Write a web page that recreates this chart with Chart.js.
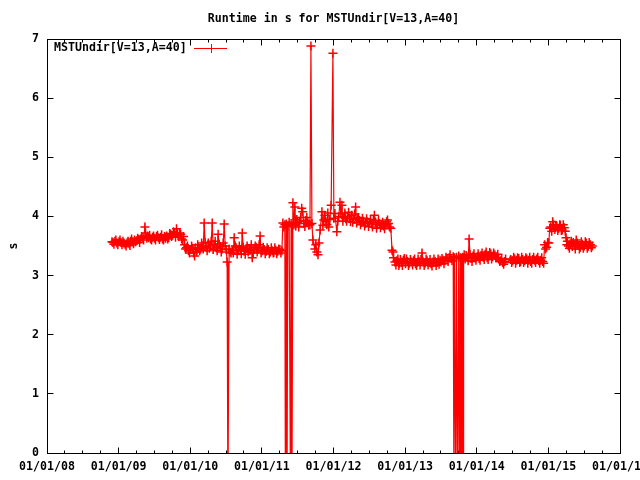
<!DOCTYPE html>
<html>
<head>
<meta charset="utf-8">
<script src="https://cdn.jsdelivr.net/npm/chart.js@4.4.0/dist/chart.umd.min.js"></script>
<style>
  html, body { margin: 0; padding: 0; background: #fff; }
</style>
</head>
<body>
<canvas id="runtimeChart" width="640" height="480"></canvas>
<script>
const chartTitle = 'Runtime in s for MSTUndir[V=13,A=40]';
const seriesName = 'MSTUndir[V=13,A=40]';
const yAxisLabel = 's';
const yearTicks = [2008, 2009, 2010, 2011, 2012, 2013, 2014, 2015, 2016];
const xTickLabels = ['01/01/08', '01/01/09', '01/01/10', '01/01/11', '01/01/12', '01/01/13', '01/01/14', '01/01/15', '01/01/16'];
const yTicks = [0, 1, 2, 3, 4, 5, 6, 7];

// one run per date; failed runs are below the axis (-1)
const runDates = [
  '2008-11-28','2008-12-03','2008-12-13','2008-12-23',
  '2009-01-03','2009-01-13','2009-01-23','2009-02-03','2009-02-13','2009-02-23',
  '2009-03-03','2009-03-13','2009-03-23','2009-04-03','2009-04-13','2009-04-23',
  '2009-05-05','2009-05-15','2009-05-18','2009-05-25','2009-06-03','2009-06-13','2009-06-23',
  '2009-07-03','2009-07-13','2009-07-23','2009-08-03','2009-08-13','2009-08-23',
  '2009-09-03','2009-09-13','2009-09-23','2009-10-03','2009-10-13','2009-10-23',
  '2009-11-03','2009-11-13','2009-11-23','2009-12-03','2009-12-13','2009-12-23',
  '2010-01-03','2010-01-13','2010-01-23','2010-02-03','2010-02-13','2010-02-23',
  '2010-03-03','2010-03-13','2010-03-23','2010-04-03','2010-04-13','2010-04-23',
  '2010-05-03','2010-05-13','2010-05-23','2010-06-03','2010-06-13','2010-06-23',
  '2010-07-03','2010-07-08','2010-07-12','2010-07-18','2010-07-23',
  '2010-08-03','2010-08-13','2010-08-23','2010-09-03','2010-09-13','2010-09-23',
  '2010-10-03','2010-10-13','2010-10-23','2010-11-03','2010-11-13','2010-11-23',
  '2010-12-03','2010-12-13','2010-12-23',
  '2011-01-03','2011-01-13','2011-01-23','2011-02-03','2011-02-13','2011-02-23',
  '2011-03-03','2011-03-13','2011-03-23',
  '2011-04-03','2011-04-13','2011-04-18','2011-04-23','2011-04-28',
  '2011-05-01','2011-05-05','2011-05-09','2011-05-13','2011-05-20','2011-05-27','2011-05-30',
  '2011-06-03','2011-06-08','2011-06-13','2011-06-18','2011-06-23',
  '2011-07-03','2011-07-13','2011-07-23','2011-07-28',
  '2011-08-03','2011-08-13','2011-08-23',
  '2011-09-03','2011-09-08','2011-09-13','2011-09-18',
  '2011-10-03','2011-10-08','2011-10-14','2011-10-19','2011-10-25',
  '2011-11-03','2011-11-13','2011-11-23',
  '2011-12-03','2011-12-08','2011-12-13','2011-12-20','2011-12-29',
  '2012-01-03','2012-01-18','2012-01-28','2012-02-03','2012-02-13','2012-02-23',
  '2012-03-03','2012-03-13','2012-03-23','2012-04-03','2012-04-13','2012-04-23',
  '2012-05-03','2012-05-13','2012-05-23','2012-06-03','2012-06-13','2012-06-23',
  '2012-07-03','2012-07-13','2012-07-28','2012-08-03','2012-08-13','2012-08-23',
  '2012-09-03','2012-09-13','2012-09-23',
  '2012-10-03','2012-10-13','2012-10-20','2012-10-26','2012-10-31',
  '2012-11-10','2012-11-20','2012-12-03','2012-12-13','2012-12-23',
  '2013-01-03','2013-01-13','2013-01-23','2013-02-03','2013-02-13','2013-02-23',
  '2013-03-03','2013-03-13','2013-03-28','2013-04-03','2013-04-13','2013-04-23',
  '2013-05-03','2013-05-13','2013-05-23','2013-06-03','2013-06-13','2013-06-23',
  '2013-07-03','2013-07-13','2013-07-23','2013-08-03','2013-08-13','2013-08-23',
  '2013-09-03','2013-09-07','2013-09-10','2013-09-17','2013-09-20','2013-09-27',
  '2013-10-01','2013-10-07','2013-10-09','2013-10-12','2013-10-14','2013-10-17','2013-10-20','2013-10-23','2013-10-26',
  '2013-11-03','2013-11-13','2013-11-23','2013-12-03','2013-12-13','2013-12-23',
  '2014-01-03','2014-01-13','2014-01-23','2014-02-03','2014-02-13','2014-02-23',
  '2014-03-03','2014-03-13','2014-03-23','2014-04-03','2014-04-13','2014-04-23',
  '2014-05-03','2014-05-13','2014-05-23','2014-06-23',
  '2014-07-03','2014-07-13','2014-07-23','2014-08-03','2014-08-13','2014-08-23',
  '2014-09-03','2014-09-13','2014-09-23','2014-10-03','2014-10-13','2014-10-23',
  '2014-11-03','2014-11-13','2014-11-23','2014-12-03','2014-12-13','2014-12-23',
  '2015-01-03','2015-01-08','2015-01-13','2015-01-23','2015-02-03','2015-02-13','2015-02-23',
  '2015-03-03','2015-03-13','2015-03-23','2015-04-01','2015-04-05','2015-04-13','2015-04-23',
  '2015-05-03','2015-05-13','2015-05-23','2015-06-03','2015-06-13','2015-06-23',
  '2015-07-03','2015-07-13','2015-07-23','2015-08-03','2015-08-13'
];

const runtimes = [
  3.57, 3.56, 3.58, 3.55,
  3.57, 3.56, 3.58, 3.53, 3.55, 3.54,
  3.58, 3.57, 3.60, 3.59, 3.61, 3.62,
  3.64, 3.82, 3.72, 3.63, 3.64, 3.62, 3.65,
  3.63, 3.66, 3.64, 3.65, 3.62, 3.66,
  3.67, 3.64, 3.70, 3.68, 3.72, 3.79,
  3.66, 3.70, 3.60, 3.52, 3.47, 3.42,
  3.44, 3.46, 3.33, 3.40, 3.46, 3.45,
  3.50, 3.89, 3.48, 3.55, 3.50, 3.89,
  3.52, 3.47, 3.70, 3.49, 3.45, 3.87,
  3.44, 3.23, -1, 3.45, 3.40,
  3.43, 3.64, 3.47, 3.42, 3.44, 3.72,
  3.41, 3.46, 3.40, 3.43, 3.30, 3.44,
  3.48, 3.45, 3.67,
  3.42, 3.44, 3.41, 3.44, 3.40, 3.42,
  3.39, 3.43, 3.41,
  3.44, 3.42, 3.89, 3.82, 3.86,
  -1, 3.87, -1, 3.84, 3.90, -1, 3.88,
  -1, 4.23, 3.86, 4.16, 3.84,
  3.90, 3.92, 4.14, 4.08,
  3.88, 3.93, 3.90,
  3.86, 6.88, 3.88, 3.60,
  3.52, 3.40, 3.35, 3.55, 3.77,
  4.08, 3.94, 3.92,
  4.06, 3.82, 3.95, 4.19, 6.76,
  3.97, 3.74, 4.00, 4.24, 4.19, 3.98,
  3.96, 4.00, 3.97, 4.02, 3.95, 4.16,
  3.96, 3.93, 3.90, 3.92, 3.88, 3.91,
  3.89, 3.87, 4.02, 3.90, 3.86, 3.88,
  3.85, 3.84, 3.86,
  3.94, 3.82, 3.80, 3.43, 3.40,
  3.23, 3.25, 3.21, 3.22, 3.26,
  3.20, 3.24, 3.21, 3.23, 3.25, 3.20,
  3.22, 3.24, 3.38, 3.23, 3.21, 3.25,
  3.22, 3.20, 3.23, 3.24, 3.22, 3.19,
  3.23, 3.26, 3.25, 3.28, 3.30, 3.29,
  3.32, -1, 3.30, -1, 3.31, -1,
  3.33, -1, 3.30, -1, 3.29, -1, 3.31, -1, 3.30,
  3.28, 3.31, 3.62, 3.29, 3.33, 3.30,
  3.32, 3.29, 3.34, 3.31, 3.36, 3.30,
  3.33, 3.37, 3.32, 3.35, 3.30, 3.28,
  3.25, 3.22, 3.24, 3.27,
  3.25, 3.28, 3.26, 3.29, 3.24, 3.27,
  3.25, 3.28, 3.26, 3.24, 3.27, 3.26,
  3.28, 3.25, 3.26, 3.24, 3.52, 3.48,
  3.55, 3.80, 3.82, 3.91, 3.78, 3.83, 3.80,
  3.85, 3.77, 3.81, 3.64, 3.52, 3.50, 3.54,
  3.49, 3.52, 3.60, 3.51, 3.48, 3.53,
  3.50, 3.55, 3.49, 3.52, 3.50
];

// further runs in between, which make the band as thick as in the plot
const extraDates = [
  '2008-12-08','2008-12-18','2008-12-28',
  '2009-01-08','2009-01-18','2009-01-28','2009-02-08','2009-02-18','2009-02-28',
  '2009-03-08','2009-03-18','2009-03-28','2009-04-08','2009-04-18','2009-04-28',
  '2009-05-08','2009-05-28','2009-06-08','2009-06-18','2009-06-28',
  '2009-07-08','2009-07-18','2009-07-28','2009-08-08','2009-08-18','2009-08-28',
  '2009-09-08','2009-09-18','2009-09-28','2009-10-08','2009-10-18','2009-10-28',
  '2009-11-08','2009-11-18','2009-11-28','2009-12-08','2009-12-18','2009-12-28',
  '2010-01-08','2010-01-18','2010-01-28','2010-02-08','2010-02-18','2010-02-28',
  '2010-03-08','2010-03-18','2010-03-28','2010-04-08','2010-04-18','2010-04-28',
  '2010-05-08','2010-05-18','2010-05-28','2010-06-08','2010-06-18','2010-06-28',
  '2010-07-28','2010-08-08','2010-08-18','2010-08-28',
  '2010-09-08','2010-09-18','2010-09-28','2010-10-08','2010-10-18','2010-10-28',
  '2010-11-08','2010-11-18','2010-11-28','2010-12-08','2010-12-18','2010-12-28',
  '2011-01-08','2011-01-18','2011-01-28','2011-02-08','2011-02-18','2011-02-28',
  '2011-03-08','2011-03-18','2011-03-28','2011-04-08',
  '2011-06-28','2011-07-08','2011-07-18','2011-08-08','2011-08-18','2011-08-28',
  '2011-09-28','2011-11-08','2011-11-18','2011-11-28',
  '2012-01-08','2012-01-23','2012-02-08','2012-02-18','2012-02-28',
  '2012-03-08','2012-03-18','2012-03-28','2012-04-08','2012-04-18','2012-04-28',
  '2012-05-08','2012-05-18','2012-05-28','2012-06-08','2012-06-18','2012-06-28',
  '2012-07-08','2012-07-18','2012-07-23','2012-08-08','2012-08-18','2012-08-28',
  '2012-09-08','2012-09-18','2012-09-28','2012-10-08',
  '2012-11-03','2012-11-15','2012-11-25','2012-11-30','2012-12-08','2012-12-18','2012-12-28',
  '2013-01-08','2013-01-18','2013-01-28','2013-02-08','2013-02-18','2013-02-28',
  '2013-03-08','2013-03-18','2013-03-23','2013-04-08','2013-04-18','2013-04-28',
  '2013-05-08','2013-05-18','2013-05-28','2013-06-08','2013-06-18','2013-06-28',
  '2013-07-08','2013-07-18','2013-07-28','2013-08-08','2013-08-18','2013-08-28',
  '2013-10-29','2013-11-08','2013-11-18','2013-11-28','2013-12-08','2013-12-18','2013-12-28',
  '2014-01-08','2014-01-18','2014-01-28','2014-02-08','2014-02-18','2014-02-28',
  '2014-03-08','2014-03-18','2014-03-28','2014-04-08','2014-04-18','2014-04-28',
  '2014-05-08','2014-05-18','2014-05-28','2014-06-28',
  '2014-07-08','2014-07-18','2014-07-28','2014-08-08','2014-08-18','2014-08-28',
  '2014-09-08','2014-09-18','2014-09-28','2014-10-08','2014-10-18','2014-10-28',
  '2014-11-08','2014-11-18','2014-11-28','2014-12-08','2014-12-18','2014-12-28',
  '2015-01-18','2015-01-28','2015-02-08','2015-02-18','2015-02-28',
  '2015-03-08','2015-03-18','2015-03-28','2015-04-08','2015-04-18','2015-04-28',
  '2015-05-08','2015-05-18','2015-05-28','2015-06-08','2015-06-18','2015-06-28',
  '2015-07-08','2015-07-18','2015-07-28','2015-08-08'
];

const extraRuntimes = [
  3.53, 3.60, 3.52,
  3.60, 3.52, 3.55, 3.50, 3.58, 3.51,
  3.62, 3.54, 3.57, 3.63, 3.56, 3.66,
  3.60, 3.67, 3.68, 3.60, 3.67,
  3.60, 3.68, 3.61, 3.69, 3.60, 3.63,
  3.62, 3.71, 3.66, 3.74, 3.65, 3.71,
  3.72, 3.62, 3.66, 3.45, 3.50, 3.38,
  3.50, 3.38, 3.47, 3.52, 3.42, 3.55,
  3.45, 3.56, 3.42, 3.46, 3.58, 3.44,
  3.58, 3.42, 3.53, 3.40, 3.55, 3.50,
  3.38, 3.38, 3.50, 3.36,
  3.50, 3.37, 3.48, 3.36, 3.50, 3.45,
  3.52, 3.38, 3.50, 3.40, 3.52, 3.38,
  3.48, 3.37, 3.47, 3.37, 3.47, 3.38,
  3.47, 3.37, 3.45, 3.38,
  3.95, 3.82, 3.98, 3.83, 3.98, 3.85,
  3.45, 3.85, 4.02, 3.86,
  4.05, 3.92, 4.05, 3.92, 4.06,
  3.92, 4.07, 3.91, 3.90, 4.04, 3.89,
  3.98, 3.86, 3.97, 3.84, 3.96, 3.83,
  3.95, 3.82, 3.93, 3.80, 3.93, 3.81,
  3.90, 3.79, 3.91, 3.88,
  3.30, 3.18, 3.28, 3.17, 3.27, 3.17, 3.29,
  3.28, 3.17, 3.27, 3.18, 3.28, 3.17,
  3.28, 3.18, 3.27, 3.17, 3.28, 3.18,
  3.27, 3.16, 3.28, 3.17, 3.28, 3.26,
  3.29, 3.20, 3.31, 3.24, 3.35, 3.25,
  3.35, 3.34, 3.25, 3.35, 3.24, 3.37, 3.26,
  3.37, 3.26, 3.38, 3.27, 3.40, 3.27,
  3.39, 3.28, 3.38, 3.30, 3.36, 3.24,
  3.29, 3.19, 3.28, 3.22,
  3.31, 3.21, 3.30, 3.22, 3.31, 3.22,
  3.30, 3.21, 3.31, 3.21, 3.31, 3.22,
  3.31, 3.21, 3.30, 3.21, 3.45, 3.56,
  3.75, 3.86, 3.85, 3.76, 3.86,
  3.76, 3.86, 3.75, 3.58, 3.46, 3.58,
  3.56, 3.45, 3.55, 3.45, 3.57, 3.46,
  3.57, 3.46, 3.56, 3.47
];

const monoFont = '"DejaVu Sans Mono", "Liberation Mono", monospace';
const fontSize = 11.6;

// 'YYYY-MM-DD' -> fractional year
const toYear = (s) => {
  const [yy, mm, dd] = s.split('-').map(Number);
  const start = Date.UTC(yy, 0, 1);
  const end = Date.UTC(yy + 1, 0, 1);
  return yy + (Date.UTC(yy, mm - 1, dd) - start) / (end - start);
};

const points = runDates
  .map((d, i) => ({ x: toYear(d), y: runtimes[i] }))
  .concat(extraDates.map((d, i) => ({ x: toYear(d), y: extraRuntimes[i] })))
  .sort((a, b) => a.x - b.x);

const gnuplotFrame = {
  id: 'gnuplotFrame',
  beforeDatasetsDraw(chart) {
    const { ctx, chartArea: a, scales: { x, y } } = chart;
    const left = Math.floor(a.left) + 0.5;
    const right = Math.floor(a.right) + 0.5;
    const top = Math.floor(a.top) + 0.5;
    const bottom = Math.floor(a.bottom) + 0.5;
    ctx.save();
    ctx.strokeStyle = '#000';
    ctx.lineWidth = 1;
    ctx.beginPath();
    yearTicks.forEach((v, i) => {
      const px = Math.floor(x.getPixelForValue(v)) + 0.5;
      ctx.moveTo(px, bottom); ctx.lineTo(px, bottom - 6);
      ctx.moveTo(px, top); ctx.lineTo(px, top + 6);
      if (i < yearTicks.length - 1) {
        [0.25, 0.5, 0.75].forEach((q) => {
          const mx = Math.floor(x.getPixelForValue(v + q)) + 0.5;
          ctx.moveTo(mx, bottom); ctx.lineTo(mx, bottom - 3);
          ctx.moveTo(mx, top); ctx.lineTo(mx, top + 3);
        });
      }
    });
    yTicks.forEach((v) => {
      const py = Math.floor(y.getPixelForValue(v)) + 0.5;
      ctx.moveTo(left, py); ctx.lineTo(left + 6, py);
      ctx.moveTo(right, py); ctx.lineTo(right - 6, py);
    });
    ctx.stroke();
    ctx.strokeRect(left, top, right - left, bottom - top);
    ctx.restore();
  },
  afterDraw(chart) {
    const { ctx, chartArea: a } = chart;
    ctx.save();
    ctx.fillStyle = '#000';
    ctx.font = `bold ${fontSize}px ${monoFont}`;
    ctx.textBaseline = 'middle';

    ctx.textAlign = 'center';
    ctx.fillText(chartTitle, (a.left + a.right) / 2, 19);

    ctx.save();
    ctx.translate(14, (a.top + a.bottom) / 2);
    ctx.rotate(-Math.PI / 2);
    ctx.fillText(yAxisLabel, 0, 0);
    ctx.restore();

    // key, gnuplot style: label then sample
    ctx.textAlign = 'left';
    ctx.fillText(seriesName, 54, 48);
    ctx.strokeStyle = '#ff0000';
    ctx.lineWidth = 1;
    ctx.beginPath();
    ctx.moveTo(194, 48.5); ctx.lineTo(227, 48.5);
    ctx.moveTo(211.5, 44); ctx.lineTo(211.5, 53);
    ctx.stroke();
    ctx.restore();
  }
};

const tickFont = { family: monoFont, size: fontSize, weight: 'bold' };

new Chart(document.getElementById('runtimeChart'), {
  type: 'line',
  data: {
    datasets: [{
      label: seriesName,
      data: points,
      borderColor: '#ff0000',
      borderWidth: 1.2,
      pointStyle: 'cross',
      pointRadius: 4.5,
      pointBorderWidth: 1.5,
      pointBorderColor: '#ff0000',
      pointBackgroundColor: '#ff0000',
      tension: 0,
      fill: false,
      clip: 0
    }]
  },
  options: {
    responsive: false,
    animation: false,
    devicePixelRatio: 1,
    layout: { padding: { top: 39, right: 20, bottom: 0, left: 0 } },
    plugins: {
      legend: { display: false },
      title: { display: false },
      tooltip: { enabled: false }
    },
    scales: {
      x: {
        type: 'linear',
        min: 2008,
        max: 2016,
        afterBuildTicks: (s) => { s.ticks = yearTicks.map((v) => ({ value: v })); },
        afterFit: (s) => { s.height = 27; s.paddingLeft = 0; s.paddingRight = 0; },
        grid: { display: false, drawTicks: false },
        border: { display: false },
        ticks: {
          font: tickFont,
          color: '#000',
          padding: 7,
          maxRotation: 0,
          autoSkip: false,
          callback: (v) => xTickLabels[yearTicks.indexOf(v)]
        }
      },
      y: {
        min: 0,
        max: 7,
        afterBuildTicks: (s) => { s.ticks = yTicks.map((v) => ({ value: v })); },
        afterFit: (s) => { s.width = 47; s.paddingTop = 0; s.paddingBottom = 0; },
        grid: { display: false, drawTicks: false },
        border: { display: false },
        ticks: { font: tickFont, color: '#000', padding: 8 }
      }
    }
  },
  plugins: [gnuplotFrame]
});
</script>
</body>
</html>
